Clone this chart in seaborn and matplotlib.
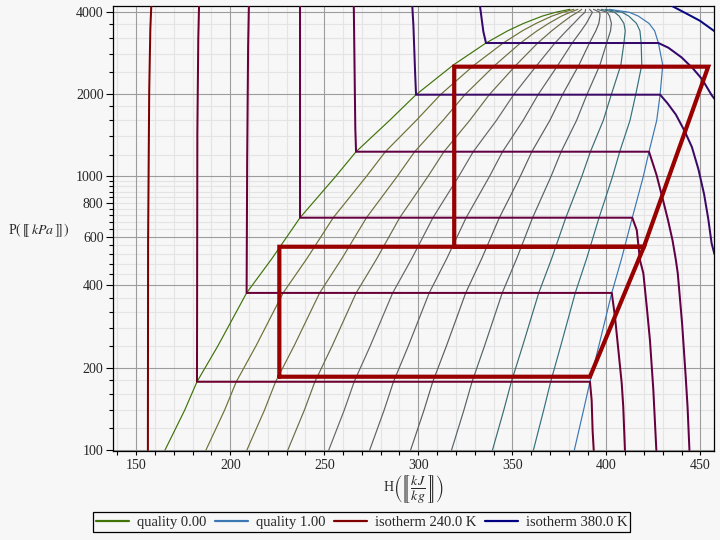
import numpy as np
import pandas as pd
import matplotlib
matplotlib.use("Agg")
import matplotlib.pyplot as plt
import seaborn as sns
from matplotlib.lines import Line2D
from matplotlib.ticker import FixedLocator, FixedFormatter, NullFormatter

# ---------------- data ----------------
# saturation dome (pressure kPa, saturated liquid / vapour enthalpy kJ/kg)
sat_p = [100, 140, 177.6, 240, 375, 500, 706, 1000, 1230, 1600, 1987, 2550,
         3069, 3400, 3620, 3850, 3975, 4073]
sat_hf = [165.3, 175.8, 182.3, 193.4, 208.7, 222.1, 237.1, 256.1, 266.9, 284.7,
          298.8, 318.6, 336.0, 347.5, 356.0, 366.0, 373.0, 380.6]
sat_hg = [383.0, 387.9, 391.3, 396.0, 402.9, 408.1, 413.8, 419.7, 422.7, 426.8,
          428.6, 430.0, 427.7, 425.7, 422.7, 417.0, 412.2, 401.6]

quality_levels = [0.0, 0.1, 0.2, 0.3, 0.4, 0.5, 0.6, 0.7, 0.8, 0.9, 1.0]
quality_colors = ["#3f7308", "#6e7034", "#6f6e3e", "#6b6a48", "#656565",
                  "#616161", "#5d5d5d", "#576266", "#3a6c72", "#33707e",
                  "#3b77b2"]

# isotherms (enthalpy kJ/kg, pressure kPa)
iso240_h = [156.2, 156.3, 156.9, 157.5, 158.0]
iso240_p = [100, 570, 2050, 3460, 4190]
iso260_h = [183.4, 183.0, 182.5, 182.3, 391.3, 392.2, 392.7, 393.3]
iso260_p = [4190, 3200, 1440, 177.6, 177.6, 152, 118, 100]
iso280_h = [209.9, 209.5, 209.0, 208.7, 402.9, 404.6, 406.4, 408.2, 409.0, 409.9]
iso280_p = [4190, 3000, 1150, 375, 375, 307, 232, 175, 144, 100]
iso300_h = [237.1, 237.1, 413.8, 416.2, 417.9, 419.7, 421.5, 423.2, 425.0, 426.6]
iso300_p = [4190, 706, 706, 636, 494, 442, 334, 252, 166, 100]
iso320_h = [265.7, 266.5, 266.9, 422.7, 426.7, 430.2, 432.8, 435.2, 437.0,
            438.0, 440.3, 442.1, 443.2, 444.2]
iso320_p = [4190, 1500, 1230, 1230, 1012, 816, 692, 584, 494, 442, 290, 190.6,
            144, 100]
iso340_h = [296.8, 297.4, 298.3, 298.8, 428.6, 432.5, 437.0, 441.5, 445.5,
            449.0, 452.0, 454.2, 456.0, 457.5]
iso340_p = [4190, 3560, 2400, 1987, 1987, 1850, 1680, 1470, 1280, 1060, 860,
            700, 569, 520]
iso360_h = [332.8, 334.6, 336.0, 427.7, 433.0, 440.0, 446.0, 451.0, 456.0, 458.0]
iso360_p = [4190, 3380, 3069, 3069, 2950, 2720, 2480, 2260, 1980, 1900]
iso380_h = [434.9, 442.8, 449.8, 457.5]
iso380_p = [4190, 3925, 3700, 3390]
isotherm_T = [240, 260, 280, 300, 320, 340, 360, 380]
isotherm_colors = ["#7d0000", "#6e0030", "#690038", "#660040", "#620045",
                   "#3c0a66", "#35086c", "#0a0a80"]

# refrigeration cycles
cycle_low_h = [226.1, 391.3, 420.0, 226.1, 226.1]
cycle_low_p = [185.3, 185.3, 553, 553, 185.3]
cycle_high_h = [319.1, 420.0, 454.2, 319.1, 319.1]
cycle_high_p = [553, 553, 2515, 2515, 553]

x_major = [150, 200, 250, 300, 350, 400, 450]
y_major = [100, 200, 400, 600, 800, 1000, 2000, 4000]
y_major_labels = ["100", "200", "400", "600", "800", "1000", "2000", "4000"]
y_minor = [120, 140, 160, 180, 240, 280, 320, 360, 440, 480, 520, 560,
           640, 680, 720, 760, 840, 880, 920, 960, 1200, 1400, 1600, 1800,
           2400, 2800, 3200, 3600]
y_grid_major = [100, 200, 400, 600, 1000, 2000, 4000]

# ---------------- style ----------------
BG = "#f7f7f7"
sns.set_style("white")
plt.rcParams["font.family"] = ["Liberation Serif", "DejaVu Serif"]
plt.rcParams["mathtext.fontset"] = "stix"

fig = plt.figure(figsize=(7.2, 5.4), dpi=100, facecolor=BG)
ax = fig.add_axes([113.3 / 720, 1 - 451 / 540, (713.5 - 113.3) / 720, (451 - 6) / 540])
ax.set_facecolor(BG)
ax.set_yscale("log")
ax.set_xlim(137.8, 457.0)
ax.set_ylim(99.2, 4190)

# grid
for xv in range(140, 460, 10):
    if xv % 50 == 0:
        continue
    ax.axvline(xv, color="#e4e4e4", lw=0.8, zorder=0)
for yv in y_minor + [800]:
    ax.axhline(yv, color="#e4e4e4", lw=0.8, zorder=0)
for xv in x_major:
    ax.axvline(xv, color="#9c9c9c", lw=0.8, zorder=0.5)
for yv in y_grid_major:
    ax.axhline(yv, color="#9c9c9c", lw=0.8, zorder=0.5)

# quality lines
for q, col in zip(quality_levels, quality_colors):
    hq = [hf + q * (hg - hf) for hf, hg in zip(sat_hf, sat_hg)]
    sns.lineplot(x=hq, y=sat_p, sort=False, estimator=None, color=col,
                 lw=0.85, ax=ax, zorder=2)

# isotherms
iso_sets = [(iso240_h, iso240_p), (iso260_h, iso260_p), (iso280_h, iso280_p),
            (iso300_h, iso300_p), (iso320_h, iso320_p), (iso340_h, iso340_p),
            (iso360_h, iso360_p), (iso380_h, iso380_p)]
for (hh, pp), col in zip(iso_sets, isotherm_colors):
    sns.lineplot(x=hh, y=pp, sort=False, estimator=None, color=col,
                 lw=1.45, ax=ax, zorder=3)

# cycles
for hh, pp in [(cycle_low_h, cycle_low_p), (cycle_high_h, cycle_high_p)]:
    sns.lineplot(x=hh, y=pp, sort=False, estimator=None, color="#990000",
                 lw=3.0, ax=ax, zorder=4)
for ln in ax.lines[-2:]:
    ln.set_solid_joinstyle("miter")

# ticks
ax.xaxis.set_major_locator(FixedLocator(x_major))
ax.xaxis.set_minor_locator(FixedLocator([v for v in range(140, 460, 10) if v % 50]))
ax.yaxis.set_major_locator(FixedLocator(y_major))
ax.yaxis.set_major_formatter(FixedFormatter(y_major_labels))
ax.yaxis.set_minor_locator(FixedLocator(y_minor))
ax.yaxis.set_minor_formatter(NullFormatter())
ax.tick_params(axis="x", which="both", direction="out", length=3.0, width=0.8,
               color="black", labelsize=10, pad=3, bottom=True)
ax.tick_params(axis="y", which="major", direction="out", length=5.0, width=0.8,
               color="black", labelsize=10, pad=2, left=True)
ax.tick_params(axis="y", which="minor", direction="out", length=2.8, width=0.8,
               color="black", left=True)
for sp in ax.spines.values():
    sp.set_color("black")
    sp.set_linewidth(0.9)
    sp.set_visible(True)
ax.set_xlabel("")
ax.set_ylabel("")

# axis labels
fig.text(38.5 / 720, 1 - 230 / 540, r"P$(\,[\![\,\mathit{kPa}\,]\!]\,)$",
         ha="center", va="center", fontsize=10)
fig.text(413.4 / 720, 1 - 489 / 540,
         r"H$\left(\left[\!\!\left[\,\dfrac{kJ}{kg}\,\right]\!\!\right]\right)$",
         ha="center", va="center", fontsize=10)

# legend
handles = [Line2D([], [], color=quality_colors[0], lw=1.6),
           Line2D([], [], color=quality_colors[-1], lw=1.6),
           Line2D([], [], color="#800000", lw=1.6),
           Line2D([], [], color="#000080", lw=1.6)]
labels = ["quality 0.00", "quality 1.00", "isotherm 240.0 K", "isotherm 380.0 K"]
leg = fig.legend(handles, labels, loc="center", bbox_to_anchor=(361.5 / 720, 1 - 522 / 540),
                 ncol=4, frameon=True, fancybox=False, edgecolor="black",
                 facecolor=BG, framealpha=1, fontsize=10.5, handlelength=2.3,
                 columnspacing=0.6, handletextpad=0.5, borderpad=0.2,
                 borderaxespad=0)
leg.get_frame().set_linewidth(0.9)

fig.savefig("out.png", dpi=100, facecolor=BG)
